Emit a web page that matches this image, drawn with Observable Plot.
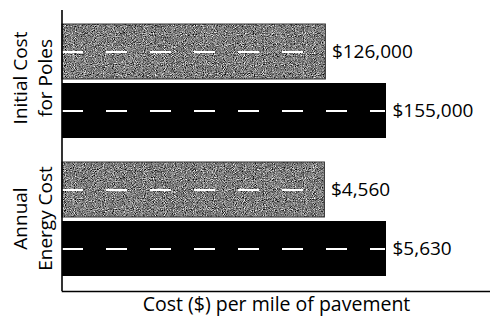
<!DOCTYPE html>
<html><head><meta charset="utf-8">
<script src="https://cdn.jsdelivr.net/npm/d3@7"></script>
<script src="https://cdn.jsdelivr.net/npm/@observablehq/plot@0.6"></script>
<style>
html,body{margin:0;padding:0;background:#fff;}
#chart{width:490px;height:318px;position:relative;font-family:"Open Sans",sans-serif;color:#000;}
#chart svg{display:block;}
#defs{position:absolute;width:0;height:0;overflow:hidden;}
</style></head><body>
<svg id="defs" width="0" height="0">
  <defs>
    <filter id="grain" x="0" y="0" width="100%" height="100%" color-interpolation-filters="sRGB">
      <feTurbulence type="fractalNoise" baseFrequency="1.1" numOctaves="1" seed="7" result="n"/>
      <feColorMatrix in="n" type="matrix" values="0.33 0.33 0.33 0 0  0.33 0.33 0.33 0 0  0.33 0.33 0.33 0 0  0 0 0 0 1" result="g"/>
      <feComponentTransfer in="g">
        <feFuncR type="linear" slope="3.0" intercept="-1.0"/>
        <feFuncG type="linear" slope="3.0" intercept="-1.0"/>
        <feFuncB type="linear" slope="3.0" intercept="-1.0"/>
      </feComponentTransfer>
    </filter>
    <pattern id="grainPat" patternUnits="userSpaceOnUse" x="0" y="0" width="490" height="318">
      <rect x="0" y="0" width="490" height="318" fill="#888" filter="url(#grain)"/>
    </pattern>
  </defs>
</svg>
<div id="chart"></div>
<script>
// Data
const groups = ["Initial Cost\nfor Poles", "Annual\nEnergy Cost"];
const series = ["gray", "black"];
const polesValues = [126000, 155000];
const energyValues = [4560, 5630];
const xTitle = "Cost ($) per mile of pavement";

const fills = {gray: "url(#grainPat)", black: "#000"};
const fmt = d3.format(",");

function panel(label, values, opts) {
  const data = series.map((s, i) => ({series: s, value: values[i]}));
  const marks = [
    Plot.barX(data.filter(d => d.series === "gray"), {x: "value", y: "series", fill: fills.gray, stroke: "#333", strokeWidth: 1}),
    Plot.barX(data.filter(d => d.series === "black"), {x: "value", y: "series", fill: fills.black}),
    Plot.ruleY(data, {y: "series", x1: 0, x2: "value", stroke: "white", strokeWidth: 2, strokeDasharray: "21,23", insetRight: 1}),
    Plot.text(data, {x: "value", y: "series", text: d => "$" + fmt(d.value), textAnchor: "start", dx: 6, fontSize: 19, fill: "#000"}),
    Plot.ruleX([0], {stroke: "#000", strokeWidth: 1.6, dx: -0.5}),
    Plot.text([label], {frameAnchor: "left", textAnchor: "middle", rotate: -90, dx: -31, fontSize: 19, lineHeight: 1.3, fill: "#000"})
  ];
  if (opts.title) {
    marks.push(Plot.frame({anchor: "bottom", stroke: "#000", strokeWidth: 1.6}));
    marks.push(Plot.text([opts.title], {frameAnchor: "bottom", dy: 19, fontSize: 19.5, fill: "#000"}));
  }
  return Plot.plot({
    width: 490,
    height: opts.height,
    marginLeft: 62,
    marginRight: 0,
    marginTop: opts.marginTop,
    marginBottom: opts.marginBottom,
    style: {fontFamily: "'Open Sans', sans-serif", fontSize: "19px", color: "#000", background: "transparent", overflow: "visible"},
    x: {domain: [0, d3.max(values)], range: [62, 386], axis: null},
    y: {domain: series, paddingInner: 0.068, paddingOuter: opts.paddingOuter, align: opts.align, axis: null},
    marks
  });
}

const chart = document.getElementById("chart");
chart.append(panel(groups[0], polesValues, {height: 145, marginTop: 10, marginBottom: 0, paddingOuter: 0.178, align: 0.667}));
chart.append(panel(groups[1], energyValues, {height: 173, marginTop: 0, marginBottom: 27, paddingOuter: 0.26, align: 0.516, title: xTitle}));
</script>
</body></html>
